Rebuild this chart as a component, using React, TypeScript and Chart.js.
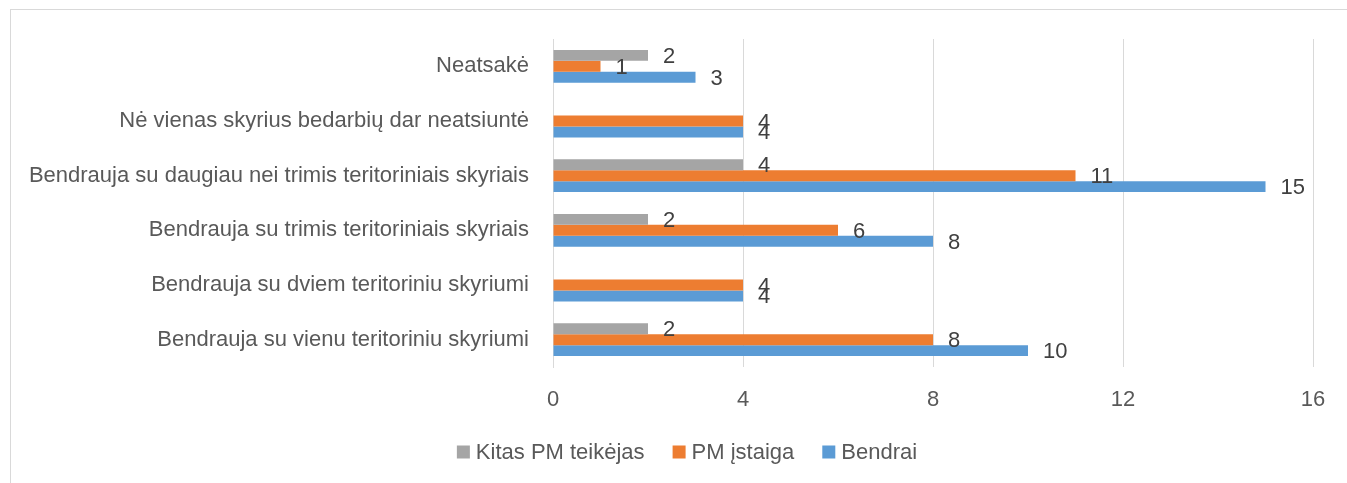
import React, { useEffect, useRef } from "react";
import { Chart, registerables } from "chart.js";

Chart.register(...registerables);

const categories = [
  "Neatsakė",
  "Nė vienas skyrius bedarbių dar neatsiuntė",
  "Bendrauja su daugiau nei trimis teritoriniais skyriais",
  "Bendrauja su trimis teritoriniais skyriais",
  "Bendrauja su dviem teritoriniu skyriumi",
  "Bendrauja su vienu teritoriniu skyriumi",
];
const kitasPM = [2, null, 4, 2, null, 2];
const pmIstaiga = [1, 4, 11, 6, 4, 8];
const bendrai = [3, 4, 15, 8, 4, 10];
const seriesNames = ["Kitas PM teikėjas", "PM įstaiga", "Bendrai"];
const xTickValues = [0, 4, 8, 12, 16];

const FONT = "'Liberation Sans', Arial, sans-serif";
const W = 1347;
const H = 483;

const dataLabelPlugin = {
  id: "dataLabels",
  afterDatasetsDraw(chart: any) {
    const ctx = chart.ctx;
    ctx.save();
    ctx.font = `22px ${FONT}`;
    ctx.fillStyle = "#404040";
    ctx.textAlign = "left";
    ctx.textBaseline = "middle";
    chart.data.datasets.forEach((ds: any, i: number) => {
      const meta = chart.getDatasetMeta(i);
      meta.data.forEach((el: any, j: number) => {
        const v = ds.data[j];
        if (v === null || v === undefined) return;
        ctx.fillText(String(v), el.x + 15, el.y + 1.5);
      });
    });
    ctx.restore();
  },
};

const legendPlugin = {
  id: "customLegend",
  afterDraw(chart: any) {
    const ctx = chart.ctx;
    ctx.save();
    ctx.font = `22px ${FONT}`;
    const box = 13;
    const gapText = 6;
    const gapItem = 28;
    const items = chart.data.datasets.map((ds: any) => ({
      text: ds.label,
      color: ds.backgroundColor,
      w: ctx.measureText(ds.label).width,
    }));
    const total =
      items.reduce((s: number, it: any) => s + box + gapText + it.w, 0) +
      gapItem * (items.length - 1);
    let x = 687 - total / 2;
    const y = 452;
    ctx.textBaseline = "middle";
    ctx.textAlign = "left";
    items.forEach((it: any) => {
      ctx.fillStyle = it.color;
      ctx.fillRect(x, y - box / 2, box, box);
      ctx.fillStyle = "#595959";
      ctx.fillText(it.text, x + box + gapText, y + 1);
      x += box + gapText + it.w + gapItem;
    });
    ctx.restore();
  },
};

export default function App() {
  const ref = useRef<HTMLCanvasElement | null>(null);

  useEffect(() => {
    if (!ref.current) return;
    const chart = new Chart(ref.current, {
      type: "bar",
      data: {
        labels: categories,
        datasets: [
          { label: seriesNames[0], data: kitasPM, backgroundColor: "#A5A5A5" },
          { label: seriesNames[1], data: pmIstaiga, backgroundColor: "#ED7D31" },
          { label: seriesNames[2], data: bendrai, backgroundColor: "#5B9BD5" },
        ],
      },
      options: {
        indexAxis: "y",
        responsive: false,
        animation: false,
        maintainAspectRatio: false,
        layout: { padding: { top: 39, right: 34, left: 0, bottom: 0 } },
        datasets: { bar: { categoryPercentage: 0.6, barPercentage: 1 } },
        plugins: {
          legend: { display: false },
          tooltip: { enabled: false },
        },
        scales: {
          x: {
            type: "linear",
            min: 0,
            max: 16,
            afterBuildTicks(scale: any) {
              scale.ticks = xTickValues.map((v) => ({ value: v }));
            },
            afterFit(scale: any) {
              scale.height = 116;
            },
            grid: { color: "#d9d9d9", lineWidth: 1, drawTicks: false },
            border: { display: false },
            ticks: {
              padding: 20,
              color: "#595959",
              font: { family: FONT, size: 22 },
            },
          },
          y: {
            type: "category",
            afterFit(scale: any) {
              scale.width = 553;
            },
            grid: { display: false, drawTicks: false },
            border: { display: true, color: "#d9d9d9", width: 1 },
            ticks: {
              padding: 24,
              color: "#595959",
              font: { family: FONT, size: 22 },
            },
          },
        },
      } as any,
      plugins: [dataLabelPlugin, legendPlugin],
    });
    return () => chart.destroy();
  }, []);

  return (
    <div style={{ position: "fixed", left: 0, top: 0, width: W, height: H, overflow: "hidden", background: "#fff" }}>
      <div
        style={{
          position: "absolute",
          left: 10,
          top: 9,
          width: 1400,
          height: 600,
          border: "1px solid #d9d9d9",
        }}
      />
      <canvas ref={ref} width={W} height={H} style={{ position: "absolute", left: 0, top: 0, display: "block" }} />
    </div>
  );
}
